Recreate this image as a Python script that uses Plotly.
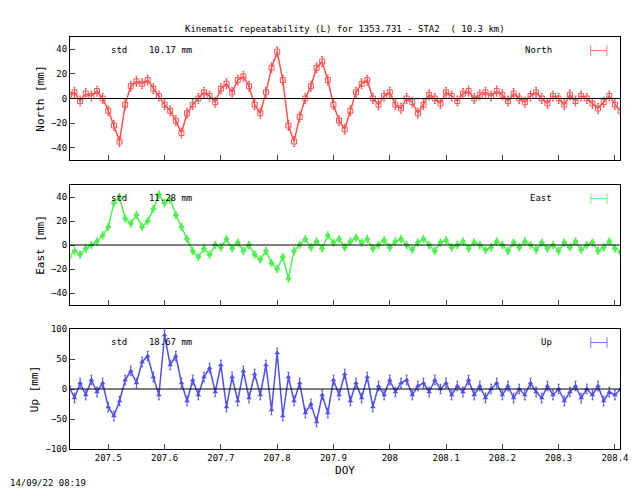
import plotly.graph_objects as go
from plotly.subplots import make_subplots

t0 = 207.43
north = [3, 5, -2, 4, 2, 6, 0, -10, -22, -35, -5, 10, 14, 12, 15, 8, 2, -5, -10, -18,
         -28, -12, -5, 0, 5, 2, -3, 8, 12, 5, 15, 18, 10, -5, -12, 5, 25, 38, 15, -22,
         -35, -15, 0, 10, 25, 30, 15, -5, -18, -25, -10, 5, 12, 15, 0, -5, 2,
         5, -5, -8, 0, -3, -12, -5, 3, 0, -4, 5, 2, -2, 4, 6, 0, 3, 5, 2, 6, 3,
         -2, 4, 0, -3, 2, 5, 0, -4, 2, 0, -5, 3, -2, 2, 0, -4, -8, -3, 2, -5, -10]
east = [-10, -5, -8, -3, 0, 3, 8, 15, 35, 40, 22, 18, 25, 15, 20, 30, 42, 35, 38, 25,
        15, 5, -5, -10, -3, -8, 0, -2, 5, -3, 2, -5, 0, -8, -12, -5, -15, -20, -10, -28,
        -5, 0, 5, -2, 3, -3, 8, 2, 5, -2, 3, 6, 2, 5, -3, 0, 4,
        -2, 3, 5, 0, -4, 2, 5, 0, -5, 2, 4, -2, 0, 3, -3, 2, 0, -4, -2, 3, 0,
        -5, 2, -2, 3, 0, -4, 2, -3, 0, -5, 2, -2, 3, -4, 0, 2, -5, -2, 3, -3, -6]
up = [5, -15, 10, -10, 15, -5, 10, -30, -45, -20, 15, 30, 10, 45, 55, 20, -10, 90, 40, 55,
      10, -20, 15, -10, 20, 35, -5, 40, -30, 20, -20, 30, -15, 25, -10, 40, -35, 60, -45, 20,
      -20, 10, -40, -25, -55, -10, -40, 15, -10, 25, -20, 10, -15, 20, -30, 5, -10,
      15, -5, 10, 15, -10, 5, 10, -5, 15, 0, 10, -10, 5, -5, 15, -10, 5, -15, 0, 10,
      -10, 5, -15, 0, -10, 10, -5, -15, 5, -10, 0, -20, -5, 5, -15, 0, -10, 5, -20, -5, -10, 0]
doy = [round(t0 + 0.01 * i, 3) for i in range(len(north))]

series = [
    ("North", north, "#ff5050", "square-open", 4, 10.17, [-50, 50], [-40, -20, 0, 20, 40]),
    ("East", east, "#50f050", "diamond", 3, 11.28, [-50, 50], [-40, -20, 0, 20, 40]),
    ("Up", up, "#5050f0", "triangle-up", 8, 18.67, [-100, 100], [-100, -50, 0, 50, 100]),
]
xtick = [207.5, 207.6, 207.7, 207.8, 207.9, 208.0, 208.1, 208.2, 208.3, 208.4]
xtext = ["207.5", "207.6", "207.7", "207.8", "207.9", "208", "208.1", "208.2", "208.3", "208.4"]

# the page puts the plot 8px down and right, so pixel positions are shifted back by 8
H = 496
domains = [[1 - 152 / H, 1 - 29 / H], [1 - 297 / H, 1 - 177 / H], [1 - 441 / H, 1 - 321 / H]]
mono = "DejaVu Sans Mono"

fig = make_subplots(rows=3, cols=1, shared_xaxes=False)
for k, (name, vals, col, sym, err, std, yr, yt) in enumerate(series):
    r = k + 1
    fig.add_trace(go.Scatter(
        x=doy, y=vals, mode="lines+markers", line=dict(color=col, width=1.5),
        marker=dict(symbol=sym, size=5, color=col),
        error_y=dict(type="constant", value=err, color=col, thickness=1, width=1),
        showlegend=False), row=r, col=1)
    fig.add_hline(y=0, line=dict(color="black", width=1), row=r, col=1)
    fig.update_yaxes(range=yr, tickvals=yt, showline=True, mirror=True, linecolor="black",
                     ticks="inside", showgrid=False, zeroline=False, domain=domains[k],
                     automargin=False, title=dict(text=f"{name} [mm]", standoff=4),
                     row=r, col=1)
    fig.update_xaxes(range=[207.432, 208.409], tickvals=xtick,
                     ticktext=xtext if r == 3 else [""] * len(xtick),
                     showline=True, mirror=True, linecolor="black", ticks="inside",
                     showgrid=False, domain=[62 / 640, 612 / 640], automargin=False,
                     row=r, col=1)
    yref = "y domain" if r == 1 else f"y{r} domain"
    xref = "x domain" if r == 1 else f"x{r} domain"
    fig.add_annotation(xref=xref, yref=yref, x=0.07, y=0.95, text=f"std    {std:.2f} mm",
                       showarrow=False, xanchor="left", yanchor="top")
    fig.add_annotation(xref=xref, yref=yref, x=0.88, y=0.95, text=name,
                       showarrow=False, xanchor="right", yanchor="top")
    fig.add_annotation(xref=xref, yref=yref, x=0.985, y=0.95, text="├──┤",
                       font=dict(color=col, size=9), showarrow=False,
                       xanchor="right", yanchor="top")

fig.update_xaxes(title=dict(text="DOY", standoff=4), row=3, col=1)
fig.add_annotation(xref="paper", yref="paper", x=337 / 640, y=1 - 14 / H,
                   text="Kinematic repeatability (L) for 1353.731 - STA2  ( 10.3 km)",
                   showarrow=False)
fig.add_annotation(xref="paper", yref="paper", x=0.0, y=1 - 482 / H,
                   text="14/09/22 08:19", showarrow=False, xanchor="left")
fig.update_layout(width=640, height=496, margin=dict(l=0, r=0, t=0, b=0),
                  plot_bgcolor="white", paper_bgcolor="white",
                  font=dict(family=mono, size=9, color="black"))
fig.write_html("out.html")
